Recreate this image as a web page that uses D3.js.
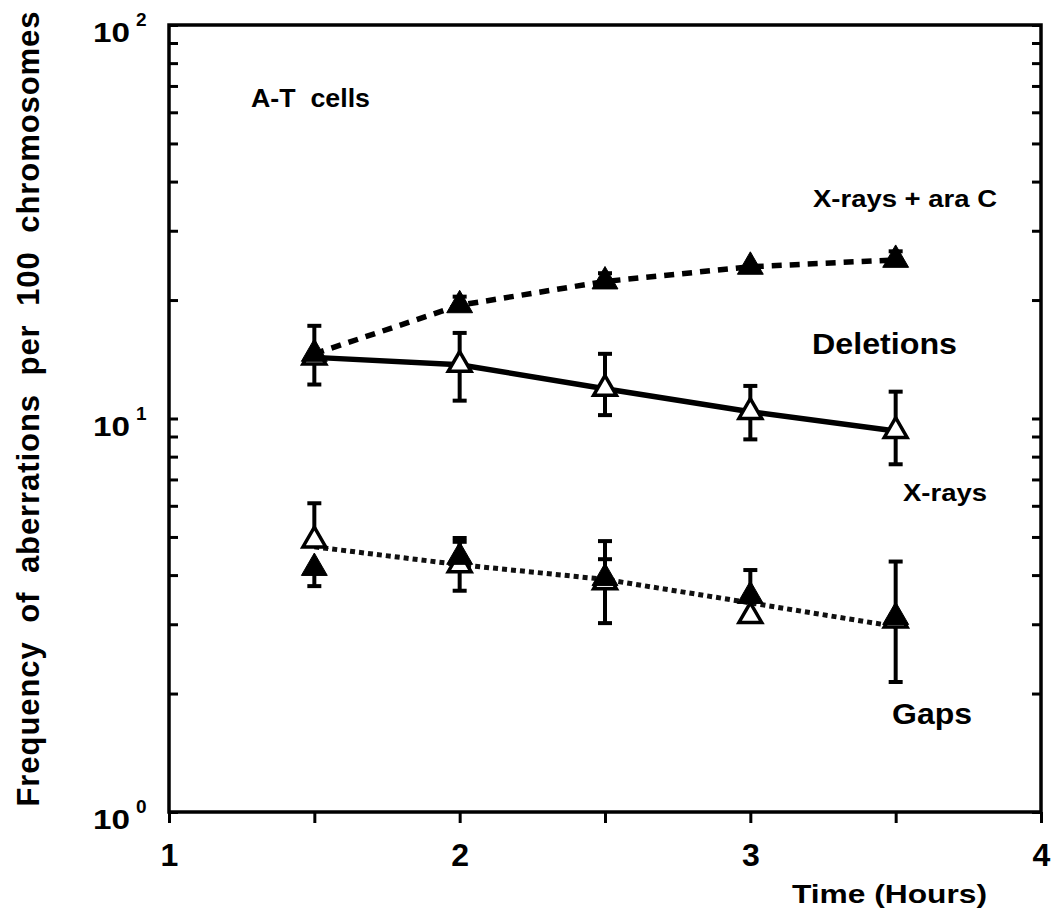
<!DOCTYPE html>
<meta charset="utf-8">
<style>
body { margin: 0; background: #fff; }
text { font-family: "Liberation Sans", Arial, sans-serif; font-weight: bold; fill: #000; white-space: pre; }
</style>
<body>
<script src="https://d3js.org/d3.v7.min.js"></script>
<script>

var width = 1051,
    height = 918;

// time points (hours)
var hours = [1.5, 2, 2.5, 3, 3.5];

// deletions, X-rays + ara C (filled triangles, dashed line)
var araC      = [14.6, 19.4, 22.3, 24.3, 25.3];
var araCHi    = [17.2, 20.4, 23.4, null, 26.6];
var araCLo    = [12.2, null, null, null, null];

// deletions, X-rays (open triangles, solid line)
var xray      = [14.3, 13.7, 11.9, 10.4, 9.3];
var xrayHi    = [null, 16.5, 14.6, 12.1, 11.7];
var xrayLo    = [null, 11.1, 10.2, 8.85, 7.65];

// gaps, X-rays (open) and X-rays + ara C (filled)
var gapX      = [4.9, 4.24, 3.84, 3.15, 3.07];
var gapXHi    = [6.09, 4.97, 4.88, 4.12, 4.33];
var gapXLo    = [null, 3.65, 3.02, null, 2.14];
var gapA      = [4.17, 4.45, 3.93, 3.54, 3.13];
var gapAHi    = [null, 4.86, 4.39, null, null];
var gapALo    = [3.75, null, null, null, null];
var gapLine   = [4.72, 4.25, 3.9, 3.4, 2.96];

var xTicks = [1, 1.5, 2, 2.5, 3, 3.5, 4];
var yTicks = [1,2,3,4,5,6,7,8,9,10,20,30,40,50,60,70,80,90,100];
var yLabels = [1, 10, 100];

var x = d3.scaleLinear().domain([1, 4]).range([169, 1041]);
var y = d3.scaleLog().domain([1, 100]).range([812, 25]);

var svg = d3.select("body").append("svg")
    .attr("width", width)
    .attr("height", height);

// axes
var left = svg.append("g").attr("transform", "translate(169,0)")
    .call(d3.axisRight(y).tickValues(yTicks).tickSize(9).tickFormat(""));
var right = svg.append("g").attr("transform", "translate(1041,0)")
    .call(d3.axisLeft(y).tickValues(yTicks).tickSize(9).tickFormat(""));
var bottom = svg.append("g").attr("transform", "translate(0,812)")
    .call(d3.axisBottom(x).tickValues(xTicks).tickSize(11).tickPadding(20)
      .tickFormat(function(d){ return Number.isInteger(d) ? d : ""; }));
[left, right, bottom].forEach(function(g){
  g.select(".domain").remove();
  g.selectAll("line").attr("stroke", "#000").attr("stroke-width", 3);
});
bottom.selectAll("text").style("font-size", "32px").attr("fill", "#000");

svg.append("rect")
    .attr("x", 169).attr("y", 25)
    .attr("width", 1041 - 169).attr("height", 812 - 25)
    .attr("fill", "none").attr("stroke", "#000").attr("stroke-width", 3.5);

// y tick labels 10^n
var yl = svg.append("g");
yl.selectAll(".base").data(yLabels).enter().append("text")
    .attr("x", 93).attr("y", function(d){ return y(d) + 17; })
    .attr("textLength", 37).attr("lengthAdjust", "spacingAndGlyphs")
    .style("font-size", "28px").text("10");
yl.selectAll(".exp").data(yLabels).enter().append("text")
    .attr("x", 136).attr("y", function(d){ return y(d) + 1; })
    .style("font-size", "19px")
    .text(function(d){ return Math.round(Math.log10(d)); });

// axis titles
svg.append("text")
    .attr("transform", "translate(39,409) rotate(-90)")
    .attr("text-anchor", "middle")
    .attr("textLength", 795).attr("lengthAdjust", "spacing")
    .style("font-size", "31px").style("word-spacing", "9px")
    .text("Frequency of aberrations per 100 chromosomes");
svg.append("text")
    .attr("x", 792).attr("y", 903)
    .attr("textLength", 195).attr("lengthAdjust", "spacingAndGlyphs")
    .style("font-size", "25px")
    .text("Time (Hours)");

// annotations
function note(t, px, py, fs, len) {
  svg.append("text").attr("x", px).attr("y", py)
    .attr("textLength", len).attr("lengthAdjust", "spacingAndGlyphs")
    .style("font-size", fs + "px").text(t);
}
note("A-T  cells", 251, 107, 26, 119);
note("X-rays + ara C", 813, 207, 23, 184);
note("Deletions", 812, 354, 30, 145);
note("X-rays", 903, 501, 24, 84);
note("Gaps", 892, 724, 29, 80);

// lines
function pts(vals) {
  return hours.map(function(h, i){ return [h, vals[i]]; });
}
var line = d3.line().x(function(d){ return x(d[0]); }).y(function(d){ return y(d[1]); });

svg.append("path").datum(pts(gapLine)).attr("d", line)
    .attr("fill", "none").attr("stroke", "#111").attr("stroke-width", 5)
    .attr("stroke-dasharray", "5,4");
svg.append("path").datum(pts(xray)).attr("d", line)
    .attr("fill", "none").attr("stroke", "#000").attr("stroke-width", 5.5);
svg.append("path").datum(pts(araC)).attr("d", line)
    .attr("fill", "none").attr("stroke", "#000").attr("stroke-width", 5.5)
    .attr("stroke-dasharray", "10,8");

// error bars
function errors(vals, hi, lo) {
  var g = svg.append("g").attr("stroke", "#000").attr("stroke-width", 4);
  hours.forEach(function(h, i){
    var cx = x(h);
    [hi[i], lo[i]].forEach(function(e){
      if (e == null) return;
      g.append("line").attr("x1", cx).attr("x2", cx)
        .attr("y1", y(vals[i])).attr("y2", y(e));
      g.append("line").attr("x1", cx - 7).attr("x2", cx + 7)
        .attr("y1", y(e)).attr("y2", y(e));
    });
  });
}
errors(xray, xrayHi, xrayLo);
errors(araC, araCHi, araCLo);
errors(gapX, gapXHi, gapXLo);
errors(gapA, gapAHi, gapALo);

// markers
var openTri = d3.symbol().type(d3.symbolTriangle).size(225);
var fillTri = d3.symbol().type(d3.symbolTriangle).size(290);
function markers(vals, filled) {
  svg.append("g").selectAll("path").data(pts(vals)).enter().append("path")
    .attr("transform", function(d){ return "translate(" + x(d[0]) + "," + y(d[1]) + ")"; })
    .attr("d", filled ? fillTri : openTri)
    .attr("fill", filled ? "#000" : "#fff")
    .attr("stroke", "#000")
    .attr("stroke-width", filled ? 1 : 3.5)
    .attr("stroke-linejoin", "miter");
}
markers(xray, false);
markers(araC, true);
markers(gapX, false);
markers(gapA, true);

</script>
</body>
